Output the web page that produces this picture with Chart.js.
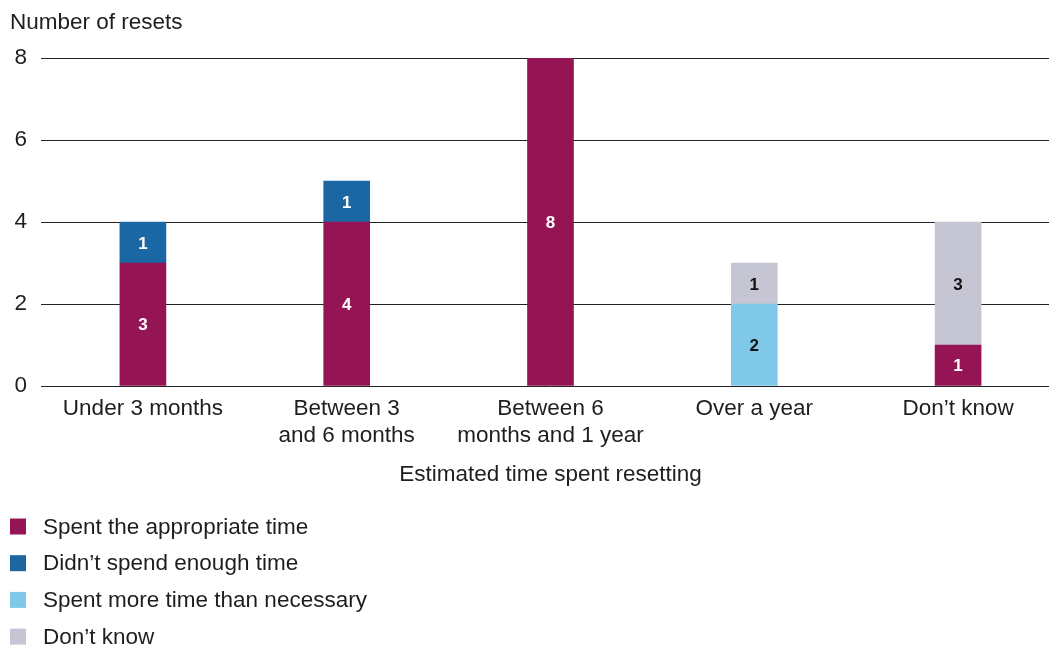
<!DOCTYPE html>
<html><head><meta charset="utf-8">
<script src="https://cdn.jsdelivr.net/npm/chart.js@4"></script>
<style>
html,body{margin:0;padding:0;background:#fff;overflow:hidden;}
#wrap{width:1049px;height:646px;overflow:hidden;position:relative;}
#c{position:absolute;left:0;top:0;}
</style></head>
<body><div id="wrap"><canvas id="c" width="1060" height="646" style="width:1060px;height:646px"></canvas></div>
<script>
const categories = ['Under 3 months', ['Between 3','and 6 months'], ['Between 6','months and 1 year'], 'Over a year', 'Don\u2019t know'];
const seriesNames = ['Spent the appropriate time', 'Didn\u2019t spend enough time', 'Spent more time than necessary', 'Don\u2019t know'];
const appropriate = [3, 4, 8, null, 1];
const notEnough = [1, 1, null, null, null];
const moreThanNecessary = [null, null, null, 2, null];
const dontKnow = [null, null, null, 1, 3];
const yTicks = [0, 2, 4, 6, 8];
const yTitle = 'Number of resets';
const xTitle = 'Estimated time spent resetting';

const colors = ['#951554', '#1A67A3', '#80C8E8', '#C5C5D3'];
const labelColors = ['#ffffff', '#ffffff', '#111111', '#111111'];
const FONT = '"Liberation Sans", Arial, sans-serif';
const TXT = '#1e1e1e';
const FS = 22.5;

const extras = {
  id: 'extras',
  afterDatasetsDraw(chart) {
    const ctx = chart.ctx;
    ctx.save();
    chart.data.datasets.forEach((ds, i) => {
      const meta = chart.getDatasetMeta(i);
      meta.data.forEach((bar, j) => {
        const v = ds.data[j];
        if (v == null) return;
        const y = (bar.y + bar.base) / 2;
        ctx.fillStyle = labelColors[i];
        ctx.font = 'bold 17px ' + FONT;
        ctx.textAlign = 'center';
        ctx.textBaseline = 'middle';
        ctx.fillText(String(v), bar.x, y + 1.5);
      });
    });
    ctx.fillStyle = TXT;
    ctx.font = FS + 'px ' + FONT;
    ctx.textAlign = 'left';
    ctx.textBaseline = 'middle';
    ctx.fillText(yTitle, 10, 23);
    const ca = chart.chartArea;
    ctx.textAlign = 'center';
    ctx.fillText(xTitle, (ca.left + ca.right) / 2, 475);
    chart.data.datasets.forEach((ds, i) => {
      const y = 526.5 + i * 36.7;
      ctx.fillStyle = ds.backgroundColor;
      ctx.fillRect(10, y - 8, 16, 16);
      ctx.fillStyle = TXT;
      ctx.textAlign = 'left';
      ctx.fillText(ds.label, 43, y + 1);
    });
    ctx.restore();
  }
};

new Chart(document.getElementById('c'), {
  type: 'bar',
  data: {
    labels: categories,
    datasets: [appropriate, notEnough, moreThanNecessary, dontKnow].map((d, i) => ({
      label: seriesNames[i], data: d, backgroundColor: colors[i], barThickness: 46, borderWidth: 0
    }))
  },
  options: {
    responsive: false, animation: false,
    layout: { padding: { top: 58, bottom: 150, left: 0, right: 0 } },
    plugins: { legend: { display: false }, tooltip: { enabled: false } },
    scales: {
      x: {
        stacked: true,
        grid: { display: false, drawTicks: false },
        border: { display: false },
        ticks: { color: TXT, font: { family: FONT, size: FS, lineHeight: 1.17 }, padding: 10, maxRotation: 0, autoSkip: false },
        afterFit(s) { s.height = 110; }
      },
      y: {
        stacked: true, min: 0, max: 8,
        afterBuildTicks(s) { s.ticks = yTicks.map(v => ({ value: v })); },
        grid: { color: '#222', lineWidth: 1, drawTicks: false },
        border: { display: false },
        ticks: { color: TXT, font: { family: FONT, size: FS }, padding: 14 },
        afterFit(s) { s.width = 41; }
      }
    }
  },
  plugins: [extras]
});
</script></body></html>
